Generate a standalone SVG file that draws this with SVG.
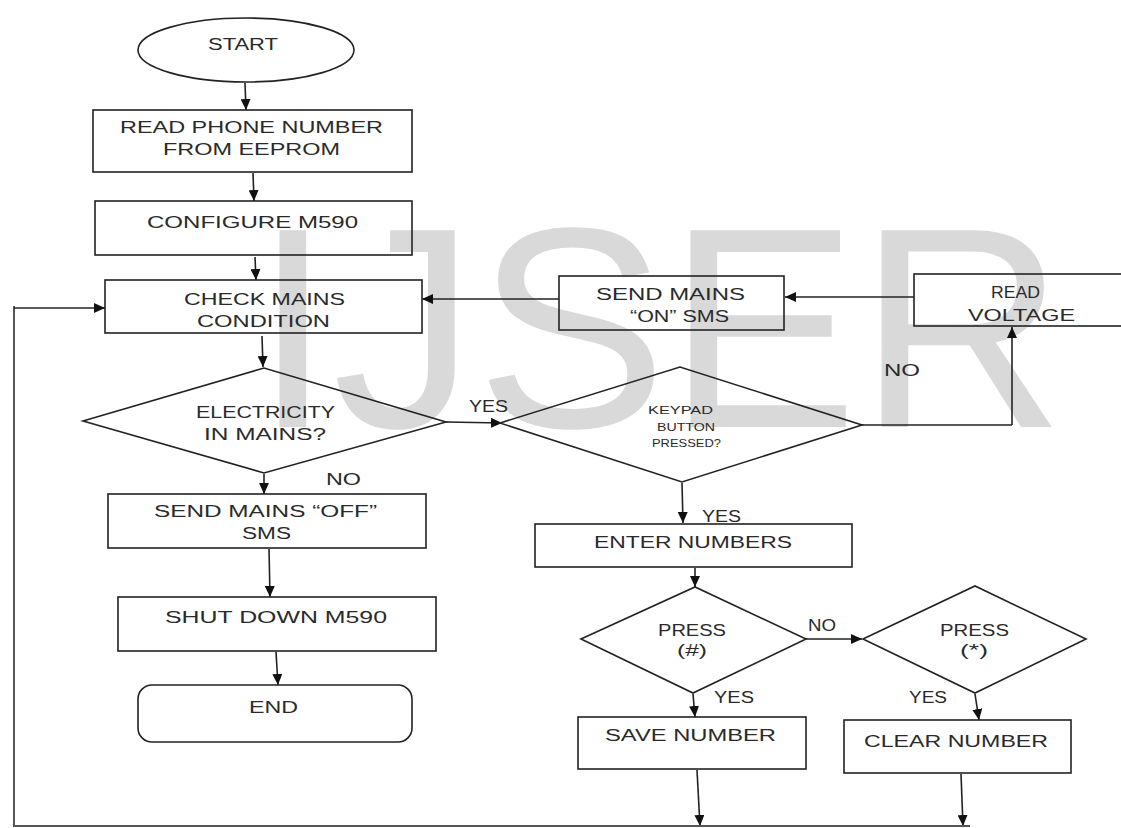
<svg xmlns="http://www.w3.org/2000/svg" width="1121" height="828" viewBox="0 0 1121 828">
<style>
.box{fill:none;stroke:#222;stroke-width:1.6}
.ln{fill:none;stroke:#222;stroke-width:1.6}
.arr{fill:none;stroke:#222;stroke-width:1.6;marker-end:url(#ah)}
.t{font-family:"Liberation Sans",Arial,sans-serif;font-size:16px;fill:#2a2a2a}
.s{font-family:"Liberation Sans",Arial,sans-serif;font-size:11px;fill:#2a2a2a}
.wm{font-family:"Liberation Sans",Arial,sans-serif;font-size:286px;fill:#d9d9d9}
</style>
<defs>
<marker id="ah" markerUnits="userSpaceOnUse" markerWidth="12" markerHeight="10" refX="11" refY="5" orient="auto">
<path d="M0,0 L11,5 L0,10 z" fill="#111"/>
</marker>
</defs>
<rect width="1121" height="828" fill="#fff"/>
<text class="wm" x="253" y="427" textLength="812" lengthAdjust="spacingAndGlyphs">IJSER</text>

<g id="connectors">
<line class="arr" x1="245" y1="83" x2="246" y2="110"/>
<line class="arr" x1="253" y1="173" x2="254" y2="201"/>
<line class="arr" x1="255" y1="257" x2="256" y2="280"/>
<line class="arr" x1="262" y1="336" x2="263" y2="367"/>
<line class="arr" x1="264" y1="474" x2="264" y2="494"/>
<line class="arr" x1="269" y1="549" x2="270" y2="597"/>
<line class="arr" x1="276" y1="652" x2="278" y2="685"/>
<line class="arr" x1="446" y1="422" x2="502" y2="423"/>
<line class="arr" x1="914" y1="297" x2="785" y2="297"/>
<line class="arr" x1="559" y1="299" x2="422" y2="299"/>
<polyline class="ln" points="862,425 1012,425"/>
<line class="arr" x1="1012" y1="425" x2="1012" y2="327"/>
<line class="arr" x1="682" y1="483" x2="683" y2="523"/>
<line class="arr" x1="695" y1="568" x2="695" y2="587"/>
<line class="arr" x1="806" y1="639" x2="862" y2="639"/>
<line class="arr" x1="693" y1="694" x2="695" y2="717"/>
<line class="arr" x1="975" y1="694" x2="979" y2="720"/>
<line class="arr" x1="697" y1="770" x2="700" y2="826"/>
<line class="arr" x1="961" y1="774" x2="963" y2="826"/>
<polyline class="ln" points="970,826 14,826 14,306" style="stroke:#555;stroke-width:2"/>
<line class="arr" x1="14" y1="308" x2="105" y2="308"/>
<text class="t" x="469" y="412" textLength="39" lengthAdjust="spacingAndGlyphs">YES</text>
<text class="t" x="326" y="485" textLength="35" lengthAdjust="spacingAndGlyphs">NO</text>
<text class="t" x="884" y="376" textLength="36" lengthAdjust="spacingAndGlyphs">NO</text>
<text class="t" x="702" y="522" textLength="39" lengthAdjust="spacingAndGlyphs">YES</text>
<text class="t" x="808" y="631" textLength="28" lengthAdjust="spacingAndGlyphs">NO</text>
<text class="t" x="714" y="703" textLength="40" lengthAdjust="spacingAndGlyphs">YES</text>
<text class="t" x="909" y="703" textLength="38" lengthAdjust="spacingAndGlyphs">YES</text>
</g>

<g id="start">
<ellipse class="box" cx="246" cy="50" rx="108" ry="32"/>
<text class="t" x="208" y="50" textLength="70" lengthAdjust="spacingAndGlyphs">START</text>
</g>
<g id="read-phone">
<rect class="box" x="93" y="110" width="319" height="62"/>
<text class="t" x="120" y="133" textLength="263" lengthAdjust="spacingAndGlyphs">READ PHONE NUMBER</text>
<text class="t" x="163" y="155" textLength="177" lengthAdjust="spacingAndGlyphs">FROM EEPROM</text>
</g>
<g id="configure">
<rect class="box" x="95" y="201" width="317" height="54"/>
<text class="t" x="147" y="228" textLength="211" lengthAdjust="spacingAndGlyphs">CONFIGURE M590</text>
</g>
<g id="check-mains">
<rect class="box" x="105" y="280" width="317" height="53"/>
<text class="t" x="184" y="305" textLength="161" lengthAdjust="spacingAndGlyphs">CHECK MAINS</text>
<text class="t" x="197" y="327" textLength="133" lengthAdjust="spacingAndGlyphs">CONDITION</text>
</g>
<g id="electricity">
<polygon class="box" points="83,421 264,368 446,422 264,473"/>
<text class="t" x="196" y="418" textLength="139" lengthAdjust="spacingAndGlyphs">ELECTRICITY</text>
<text class="t" x="204" y="440" textLength="122" lengthAdjust="spacingAndGlyphs">IN MAINS?</text>
</g>
<g id="send-off">
<rect class="box" x="108" y="494" width="318" height="54"/>
<text class="t" x="154" y="517" textLength="223" lengthAdjust="spacingAndGlyphs">SEND MAINS “OFF”</text>
<text class="t" x="242" y="539" textLength="49" lengthAdjust="spacingAndGlyphs">SMS</text>
</g>
<g id="shutdown">
<rect class="box" x="118" y="597" width="318" height="54"/>
<text class="t" x="165" y="623" textLength="222" lengthAdjust="spacingAndGlyphs">SHUT DOWN M590</text>
</g>
<g id="end">
<rect class="box" x="138" y="685" width="274" height="57" rx="14"/>
<text class="t" x="249" y="713" textLength="49" lengthAdjust="spacingAndGlyphs">END</text>
</g>
<g id="send-on">
<rect class="box" x="559" y="276" width="225" height="54"/>
<text class="t" x="596" y="300" textLength="149" lengthAdjust="spacingAndGlyphs">SEND MAINS</text>
<text class="t" x="630" y="322" textLength="99" lengthAdjust="spacingAndGlyphs">“ON” SMS</text>
</g>
<g id="read-voltage">
<rect class="box" x="914" y="274" width="220" height="52"/>
<text class="t" x="991" y="298" textLength="49" lengthAdjust="spacingAndGlyphs">READ</text>
<text class="t" x="968" y="321" textLength="107" lengthAdjust="spacingAndGlyphs">VOLTAGE</text>
</g>
<g id="keypad">
<polygon class="box" points="500,423 680,367 862,425 682,482"/>
<text class="s" x="648" y="414" textLength="65" lengthAdjust="spacingAndGlyphs">KEYPAD</text>
<text class="s" x="657" y="431" textLength="58" lengthAdjust="spacingAndGlyphs">BUTTON</text>
<text class="s" x="652" y="447" textLength="69" lengthAdjust="spacingAndGlyphs">PRESSED?</text>
</g>
<g id="enter-numbers">
<rect class="box" x="535" y="524" width="317" height="43"/>
<text class="t" x="594" y="548" textLength="198" lengthAdjust="spacingAndGlyphs">ENTER NUMBERS</text>
</g>
<g id="press-hash">
<polygon class="box" points="581,639 695,587 806,639 693,693"/>
<text class="t" x="658" y="636" textLength="68" lengthAdjust="spacingAndGlyphs">PRESS</text>
<text class="t" x="677" y="656" textLength="30" lengthAdjust="spacingAndGlyphs">(#)</text>
</g>
<g id="press-star">
<polygon class="box" points="863,639 975,586 1086,639 975,693"/>
<text class="t" x="940" y="636" textLength="69" lengthAdjust="spacingAndGlyphs">PRESS</text>
<text class="t" x="960" y="656" textLength="28" lengthAdjust="spacingAndGlyphs">(*)</text>
</g>
<g id="save-number">
<rect class="box" x="578" y="717" width="228" height="52"/>
<text class="t" x="605" y="741" textLength="171" lengthAdjust="spacingAndGlyphs">SAVE NUMBER</text>
</g>
<g id="clear-number">
<rect class="box" x="844" y="720" width="227" height="53"/>
<text class="t" x="864" y="747" textLength="184" lengthAdjust="spacingAndGlyphs">CLEAR NUMBER</text>
</g>
</svg>
